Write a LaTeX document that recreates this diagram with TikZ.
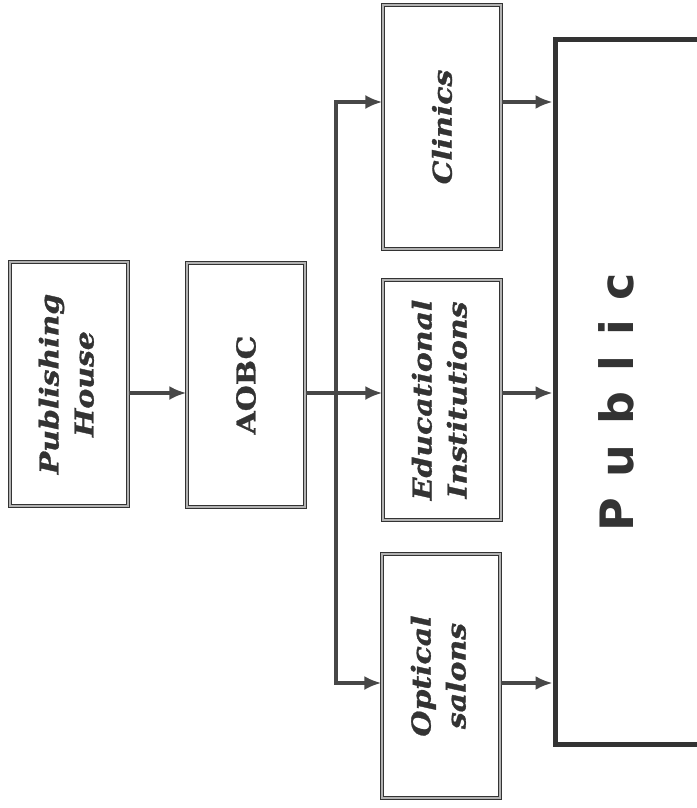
\documentclass[tikz,border=0pt]{standalone}
\usepackage{fontspec}
\setmainfont{DejaVu Serif}[FakeStretch=1.15, BoldFeatures={FakeBold=1.2}, BoldItalicFeatures={FakeBold=1.2}]
\newfontfamily\publicfont{DejaVu Sans}
\usetikzlibrary{arrows.meta}
\definecolor{ink}{HTML}{333333}

\tikzstyle{box}=[draw=ink, line width=1.3pt, double=gray!60, double distance=1.5pt, fill=white, inner sep=0pt, minimum width=118pt, minimum height=244pt, text=ink, font=\fontsize{26}{35}\selectfont\bfseries\itshape]
\tikzstyle{frame}=[draw=ink, line width=5pt, inner sep=0pt]
\tikzstyle{link}=[draw=ink!90, line width=3.2pt]
\tikzstyle{arrow}=[link, -{Latex[length=17pt,width=14pt]}]
\tikzstyle{twoway}=[link, {Latex[length=17pt,width=14pt]}-{Latex[length=17pt,width=14pt]}]

\begin{document}
\begin{tikzpicture}[x=1pt, y=-1pt]
    \useasboundingbox (0,0) rectangle (696,808);

    \node[box] (house) at (69, 384) {\rotatebox{90}{\begin{tabular}{c}Publishing\\House\end{tabular}}};
    \node[box] (aobc) at (246, 385) {\rotatebox{90}{\upshape AOBC}};
    \node[box] (clinics) at (442, 127) {\rotatebox{90}{Clinics}};
    \node[box, minimum height=240pt] (edu) at (442, 400) {\rotatebox{90}{\begin{tabular}{c}Educational\\Institutions\end{tabular}}};
    \node[box] (optical) at (441, 676) {\rotatebox{90}{\begin{tabular}{c}Optical\\salons\end{tabular}}};
    \node[frame, minimum width=165pt, minimum height=705pt] (public) at (637.5, 392) {};
    \node[text=ink, font=\publicfont\fontsize{46}{46}\selectfont\bfseries] (word) at (616, 402) {\rotatebox{90}{P\hspace{20pt}u\hspace{20pt}b\hspace{20pt}l\hspace{20pt}i\hspace{20pt}c}};

    \coordinate (mid) at (336, 393);
    \coordinate (busN) at (336, 102);
    \coordinate (busS) at (336, 683);

    \draw[arrow] (house.east |- mid) to (aobc.west |- mid);
    \draw[arrow] (aobc.east |- mid) to (edu.west |- mid);
    \draw[twoway] (busN -| clinics.west) -- (busN) -- (busS) -- (busS -| optical.west);

    \draw[arrow] (clinics.east |- busN) to (public.west |- busN);
    \draw[arrow] (edu.east |- mid) to (public.west |- mid);
    \draw[arrow] (optical.east |- busS) to (public.west |- busS);
  \end{tikzpicture}
\end{document}
